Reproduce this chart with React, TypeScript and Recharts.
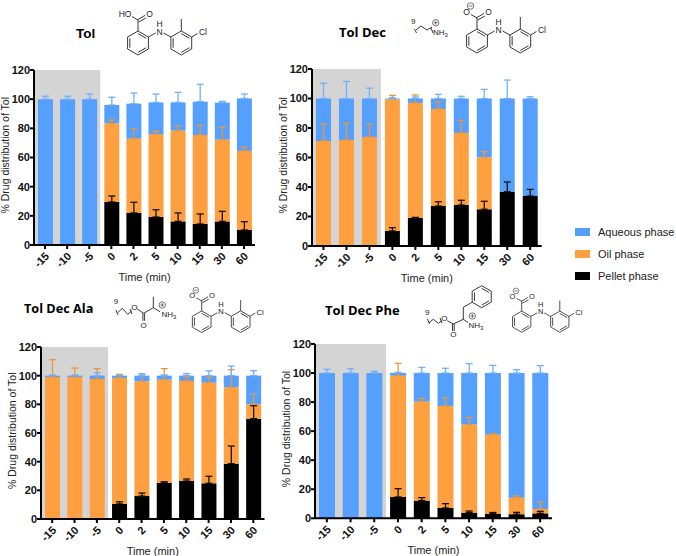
import React from 'react';
import { BarChart, Bar, XAxis, YAxis, ErrorBar, ReferenceArea } from 'recharts';

const times = ['-15', '-10', '-5', '0', '2', '5', '10', '15', '30', '60'];
const yTicks = [0, 20, 40, 60, 80, 100, 120];
const legendNames = ['Aqueous phase', 'Oil phase', 'Pellet phase'];

type Num = number | null;

const tolPellet = [0, 0, 0, 29.5, 22, 19.2, 16.2, 14.4, 16.2, 10.3];
const tolPelletErr: Num[] = [null, null, null, 4.1, 7.3, 5, 5.8, 6.9, 6.9, 5.7];
const tolOil = [0, 0, 0, 53.9, 50.9, 56.7, 62.2, 61, 56, 54.2];
const tolOilErr: Num[] = [null, null, null, 2.3, 6.9, 2, 3.2, 6.6, 8.7, 2.7];
const tolAqueous = [100, 100, 100, 12.6, 24, 21.9, 19.4, 22.9, 25.4, 36];
const tolAqueousErr: Num[] = [2, 2, 3.5, 5.3, 7.3, 5.7, 6.9, 11.9, 0.9, 3];

const decPellet = [0, 0, 0, 10.2, 19.2, 27.1, 27.8, 24.9, 36.8, 33.9];
const decPelletErr: Num[] = [null, null, null, 2.2, 0.2, 2.9, 3.2, 5.4, 6.6, 4.5];
const decOil = [71.2, 71.9, 73.9, 89.2, 77.8, 65.8, 48.8, 35.2, 0, 0];
const decOilErr: Num[] = [11.5, 11.3, 8.6, 2.7, 5.4, 4.7, 8.6, 3.9, null, null];
const decAqueous = [28.8, 28.1, 26.1, 0.6, 3, 7.1, 23.4, 39.9, 63.2, 66.1];
const decAqueousErr: Num[] = [10.3, 11.6, 7, 0.5, 1, 2.8, 1.5, 6.2, 12.5, 1.2];

const alaPellet = [0, 0, 0, 10.5, 16, 25.3, 26.5, 24.9, 38.6, 70];
const alaPelletErr: Num[] = [null, null, null, 1.5, 2.1, 0.7, 1.4, 4.9, 12.3, 9];
const alaOil = [99, 99, 97.7, 87.9, 80, 71.9, 69.8, 70.2, 53.3, 10];
const alaOilErr: Num[] = [12.2, 6.3, 7.2, 2.5, 5.4, 7.7, 3, 4, 12.3, 7.2];
const alaAqueous = [1, 1, 2.3, 1.6, 4, 2.8, 3.7, 4.9, 8.1, 20];
const alaAqueousErr: Num[] = [0.5, 0.5, 2, 0.2, 1.2, 0.5, 1.4, 3.3, 6.7, 3.5];

const phePellet = [0, 0, 0, 14.7, 12.2, 7.1, 3.9, 3.2, 2.8, 3.4];
const phePelletErr: Num[] = [null, null, null, 5.7, 2, 3, 1.1, 0.8, 1.3, 1.4];
const pheOil = [0, 0, 0, 83.5, 68.1, 70.2, 60.6, 54.4, 11.4, 3];
const pheOilErr: Num[] = [null, null, null, 8.5, 2.3, 5.7, 5, 0.7, 1.2, 4.8];
const pheAqueous = [100, 100, 100, 1.8, 19.7, 22.7, 35.5, 42.4, 85.8, 93.6];
const pheAqueousErr: Num[] = [2.6, 3, 1.2, 0.5, 3.9, 3.3, 6.5, 5.3, 2.3, 5.1];

const BLUE = '#559FFF';
const ORANGE = '#FFA040';
const BLACK = '#000000';
const GRAY = '#D4D4D4';
const SANS = '"Liberation Sans", Arial, sans-serif';

function makeRows(p: number[], pe: Num[], o: number[], oe: Num[], a: number[], ae: Num[]) {
  return times.map((t, i) => ({
    time: t,
    pellet: p[i],
    pelletErr: pe[i],
    oil: o[i],
    oilErr: oe[i],
    aqueous: a[i],
    aqueousErr: ae[i],
  }));
}

// upper error only, nothing at all when the point has no error
const upper = (key: string) => (row: any) => (row[key] == null ? null : [0, row[key]]);

function TimeTick({ x, y, payload }: any) {
  const tx = x + 2;
  const ty = y + 2;
  return (
    <text
      x={tx}
      y={ty}
      transform={`rotate(-45 ${tx} ${ty})`}
      textAnchor="end"
      dominantBaseline="central"
      fontFamily={SANS}
      fontSize={11}
      fontWeight="bold"
      fill="#111"
    >
      {payload.value}
    </text>
  );
}

interface PanelProps {
  rows: any[];
  left: number;
  right: number;
  top: number;
  bottom: number;
  barSize: number;
}

const LEFT_PAD = 40;
const TOP_PAD = 10;
const X_AXIS_H = 46;

function Panel({ rows, left, right, top, bottom, barSize }: PanelProps) {
  return (
    <div style={{ position: 'absolute', left: left - LEFT_PAD, top: top - TOP_PAD }}>
      <BarChart
        width={right - left + LEFT_PAD + 6}
        height={bottom - top + TOP_PAD + X_AXIS_H}
        data={rows}
        margin={{ top: TOP_PAD, right: 6, left: 0, bottom: 0 }}
        barSize={barSize}
      >
        <ReferenceArea x1="-15" x2="-5" y1={0} y2={120} fill={GRAY} fillOpacity={1} stroke="none" />
        <XAxis
          dataKey="time"
          height={X_AXIS_H}
          interval={0}
          stroke={BLACK}
          strokeWidth={2}
          tickSize={4}
          tickMargin={3}
          tick={<TimeTick />}
          label={{
            value: 'Time (min)',
            position: 'insideBottom',
            offset: 10,
            style: { fontFamily: SANS, fontSize: 11, fill: '#222' },
          }}
        />
        <YAxis
          domain={[0, 120]}
          ticks={yTicks}
          width={LEFT_PAD}
          stroke={BLACK}
          strokeWidth={2}
          tickSize={4}
          tickMargin={0}
          interval={0}
          tick={{ fontFamily: SANS, fontSize: 11, fontWeight: 'bold', fill: '#111' }}
          label={{
            value: '% Drug distribution of Tol',
            angle: -90,
            position: 'insideLeft',
            offset: 0,
            dx: 11,
            dy: 56,
            style: { fontFamily: SANS, fontSize: 10.5, fill: '#222' },
          }}
        />
        <Bar dataKey="pellet" stackId="a" fill={BLACK} isAnimationActive={false}>
          <ErrorBar dataKey={upper('pelletErr')} direction="y" width={3.5} stroke="#1a1208" strokeWidth={1.3} isAnimationActive={false} />
        </Bar>
        <Bar dataKey="oil" stackId="a" fill={ORANGE} isAnimationActive={false}>
          <ErrorBar dataKey={upper('oilErr')} direction="y" width={3.5} stroke="#E8983C" strokeWidth={1.3} isAnimationActive={false} />
        </Bar>
        <Bar dataKey="aqueous" stackId="a" fill={BLUE} isAnimationActive={false}>
          <ErrorBar dataKey={upper('aqueousErr')} direction="y" width={3.5} stroke="#6FB0FF" strokeWidth={1.3} isAnimationActive={false} />
        </Bar>
      </BarChart>
    </div>
  );
}

const hex = (cx: number, cy: number, r: number) =>
  [0, 60, 120, 180, 240, 300].map((d) => {
    const a = (d * Math.PI) / 180;
    return [cx + r * Math.sin(a), cy - r * Math.cos(a)];
  });

function Ring({ cx, cy, r = 12 }: { cx: number; cy: number; r?: number }) {
  const v = hex(cx, cy, r);
  const inner = hex(cx, cy, r - 2.6);
  return (
    <g>
      <polygon points={v.map((p) => p.join(',')).join(' ')} />
      {[0, 2, 4].map((i) => (
        <line key={i} x1={inner[i][0]} y1={inner[i][1]} x2={inner[i + 1][0]} y2={inner[i + 1][1]} />
      ))}
    </g>
  );
}

function Charge({ x, y, sign }: { x: number; y: number; sign: '+' | '-' }) {
  return (
    <g strokeWidth={0.6}>
      <circle cx={x} cy={y} r={3.2} />
      <line x1={x - 2} y1={y} x2={x + 2} y2={y} />
      {sign === '+' && <line x1={x} y1={y - 2} x2={x} y2={y + 2} />}
    </g>
  );
}

// tolfenamic skeleton, origin on the centre of the benzoic ring
function Tolfenamic({ x, y, scale = 1, acid = false }: { x: number; y: number; scale?: number; acid?: boolean }) {
  return (
    <g transform={`translate(${x} ${y}) scale(${scale})`}>
      <Ring cx={0} cy={0} />
      <Ring cx={43.3} cy={0} />
      <polyline points="0,-12 0,-23" />
      <line x1={-0.8} y1={-23} x2={7} y2={-27.6} />
      <line x1={0.8} y1={-21} x2={7.8} y2={-25} />
      <line x1={0} y1={-23} x2={-6} y2={-26.5} />
      <line x1={10.4} y1={-6} x2={17.6} y2={-10} />
      <line x1={25.6} y1={-10} x2={32.9} y2={-6} />
      <line x1={43.3} y1={-12} x2={43.3} y2={-24} />
      <line x1={53.7} y1={-6} x2={59.5} y2={-9.5} />
      <g stroke="none" fill="#222" fontFamily={SANS} fontSize={8.5} textAnchor="middle">
        <text x={11.5} y={-26}>O</text>
        <text x={acid ? -13 : -10.5} y={-26}>{acid ? 'HO' : 'O'}</text>
        <text x={21.6} y={-8.5}>N</text>
        <text x={21.6} y={-16.5}>H</text>
        <text x={65} y={-8}>Cl</text>
      </g>
      {!acid && <Charge x={-6.5} y={-35} sign="-" />}
    </g>
  );
}

function Structures() {
  return (
    <svg
      width={676}
      height={556}
      style={{ position: 'absolute', left: 0, top: 0 }}
      fill="none"
      stroke="#222"
      strokeWidth={0.9}
    >
      <g stroke="none" fill="#000">
        <text x={76} y={38} fontFamily={SANS} fontWeight="bold" fontSize={13.5}>Tol</text>
        <text x={339} y={37} fontFamily='"Open Sans"' fontWeight="bold" fontSize={13}>Tol Dec</text>
        <text x={24} y={313} fontFamily='"Open Sans"' fontWeight="bold" fontSize={12.7}>Tol Dec Ala</text>
        <text x={325} y={315} fontFamily='"Open Sans"' fontWeight="bold" fontSize={13}>Tol Dec Phe</text>
      </g>

      <Tolfenamic x={138} y={43} acid />
      <Tolfenamic x={477} y={41} />
      <Tolfenamic x={201.7} y={321.7} scale={0.9} />
      <Tolfenamic x={521.7} y={321.7} scale={0.88} />

      {/* decyl ammonium */}
      <polyline points="416,30 421,26 427,30 432,27" />
      <path d="M414.5,29 l2,4 M431,28 l2,5" />
      <Charge x={435.7} y={22.7} sign="+" />
      <g stroke="none" fill="#222" fontFamily={SANS} fontSize={8}>
        <text x={411} y={24}>9</text>
        <text x={433} y={35}>NH<tspan fontSize={6} dy={2}>3</tspan></text>
      </g>

      {/* decyl alanine */}
      <polyline points="117.7,312.7 122.3,308.3 127.7,314.3 131.7,311" />
      <path d="M116,310 l2,5 M130,309 l2,5" />
      <polyline points="137.3,309 143.7,313.3 153.3,307.7 153.3,296.7" />
      <path d="M142.9,313.3 v7.5 M144.6,313.3 v7.5 M153.3,307.7 L160,311.7" />
      <Charge x={162.3} y={305} sign="+" />
      <g stroke="none" fill="#222" fontFamily={SANS} fontSize={8} textAnchor="middle">
        <text x={116} y={304}>9</text>
        <text x={134.3} y={310}>O</text>
        <text x={143.7} y={328}>O</text>
        <text x={169} y={317}>NH<tspan fontSize={6} dy={2}>3</tspan></text>
      </g>

      {/* decyl phenylalanine */}
      <polyline points="429,322.7 433.3,319.3 438.3,323.3 441.7,320.7" />
      <path d="M427.5,319 l2,5 M440,318 l2,5" />
      <polyline points="447.3,320.7 453.3,324 463.3,319.3 463.3,307.3 472.2,302.2" />
      <path d="M452.5,324 v7 M454.2,324 v7 M463.3,319.3 L468,322.5" />
      <Ring cx={481.7} cy={296.7} r={11} />
      <Charge x={472.3} y={316} sign="+" />
      <g stroke="none" fill="#222" fontFamily={SANS} fontSize={8} textAnchor="middle">
        <text x={427.3} y={315}>9</text>
        <text x={444.3} y={321}>O</text>
        <text x={453.3} y={337}>O</text>
        <text x={476} y={328}>NH<tspan fontSize={6} dy={2}>3</tspan></text>
      </g>
    </svg>
  );
}

function PhaseLegend() {
  const colors = [BLUE, ORANGE, BLACK];
  return (
    <div style={{ position: 'absolute', left: 575, top: 221 }}>
      {legendNames.map((name, i) => (
        <div key={name} style={{ position: 'absolute', top: i * 22, left: 0, display: 'flex', alignItems: 'center', whiteSpace: 'nowrap', height: 22 }}>
          <span style={{ width: 15, height: 8, background: colors[i], display: 'inline-block', marginRight: 8 }} />
          <span style={{ fontFamily: SANS, fontSize: 11, color: '#222' }}>{name}</span>
        </div>
      ))}
    </div>
  );
}

export default function App() {
  return (
    <div style={{ position: 'absolute', left: 0, top: 0, width: 676, height: 556, background: '#fff', overflow: 'hidden' }}>
      <Structures />
      <Panel rows={makeRows(tolPellet, tolPelletErr, tolOil, tolOilErr, tolAqueous, tolAqueousErr)} left={34} right={255} top={70.3} bottom={245.3} barSize={15} />
      <Panel rows={makeRows(decPellet, decPelletErr, decOil, decOilErr, decAqueous, decAqueousErr)} left={312} right={541.7} top={69} bottom={246} barSize={15} />
      <Panel rows={makeRows(alaPellet, alaPelletErr, alaOil, alaOilErr, alaAqueous, alaAqueousErr)} left={41} right={264.5} top={346.7} bottom={518.7} barSize={15} />
      <Panel rows={makeRows(phePellet, phePelletErr, pheOil, pheOilErr, pheAqueous, pheAqueousErr)} left={315} right={552} top={344} bottom={518.3} barSize={16} />
      <PhaseLegend />
    </div>
  );
}
